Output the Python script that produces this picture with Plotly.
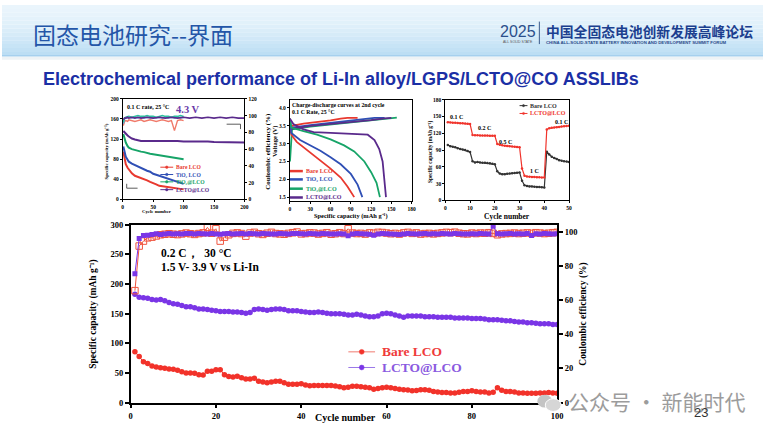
import plotly.graph_objects as go

W, H = 769, 436
def X(p): return p / W
def Y(p): return 1 - p / H

SERIF = "Liberation Serif"

# ================= DATA =================
# --- main chart (bottom): 0.2 C, 30 C cycling ---
cycles = list(range(1, 101))
bare_cap = [86, 78, 69, 66, 62, 60, 59, 58, 57, 56.5,
            54.5, 52, 50, 50, 49.5, 47, 46.8, 53, 53, 55.6,
            55.6, 47, 44, 43.5, 44.6, 42, 40, 40, 41, 36,
            35, 33.5, 35, 36, 36, 33.6, 31, 31, 31, 32,
            30, 28.6, 29, 29, 29, 29, 29, 28, 27, 25,
            26, 27.5, 27.5, 27, 26, 25, 22.6, 23.7, 25, 26,
            25, 24, 22.6, 22, 21.5, 20, 20.5, 22, 22, 21,
            19, 18, 17, 17, 16.5, 16.5, 17.6, 19, 19, 20,
            19, 18, 18, 16.5, 17.6, 25, 21, 19, 18.7, 18,
            16.5, 16.5, 16, 16, 16, 16.5, 16.5, 17, 16.5, 16]
lcto_cap = [183, 178, 177, 176, 174, 173, 174, 172, 169, 167,
            166, 164, 162, 162, 160, 158, 158, 157, 156, 155,
            154, 154, 154, 153, 153, 152, 151, 152, 157, 158,
            157, 156, 157, 158, 158, 157, 155, 155, 155, 154,
            153, 152, 152, 153, 152, 151, 150, 150, 150, 149,
            148, 148, 149, 148, 146, 145, 145, 146, 150, 151,
            150, 148, 146, 144, 146, 146, 146, 146, 145, 145,
            145, 144, 144, 144, 144, 143, 143, 143, 143, 142,
            142, 142, 141, 140, 140, 140, 139, 138, 138, 137,
            136, 136, 135, 135, 134, 133, 133, 133, 132, 132]
bare_ce = [65.5, 91.6, 94.5, 96.4, 96.8, 97.5, 98.2, 98.5, 98.8, 98.5,
           98.3, 98.7, 99.2, 98.8, 98.4, 98.9, 99.3, 102.5, 99.1, 101.7,
           94.5, 96.8, 98.2, 99.0, 99.3, 98.9, 97.4, 99.2, 99.6, 98.8,
           98.4, 99.1, 99.6, 98.9, 98.7, 98.5, 99.0, 99.4, 99.8, 98.7,
           98.9, 99.3, 99.2, 98.6, 99.0, 99.4, 98.5, 98.8, 99.4, 98.9,
           101.7, 99.2, 98.9, 99.0, 98.6, 99.3, 99.1, 99.6, 99.5, 99.2,
           98.8, 99.0, 98.6, 99.3, 99.6, 99.0, 99.3, 98.6, 98.9, 99.0,
           98.7, 99.0, 99.3, 99.6, 99.4, 99.7, 99.1, 98.8, 98.7, 99.2,
           98.9, 99.2, 99.1, 99.4, 99.0, 98.2, 98.7, 98.9, 99.0, 99.2,
           98.9, 99.1, 99.3, 99.0, 99.4, 99.2, 98.9, 99.1, 99.4, 99.6]
lcto_ce = [75.4, 96.0, 97.7, 97.9, 98.3, 98.8, 98.4, 98.6, 98.9, 98.7,
           98.8, 98.6, 98.9, 99.0, 98.7, 98.9, 98.8, 98.6, 98.9, 98.7,
           98.5, 98.8, 98.9, 98.7, 98.8, 98.9, 98.6, 99.0, 98.8, 98.7,
           98.9, 98.8, 98.6, 98.7, 98.9, 98.8, 98.7, 98.9, 99.0, 98.8,
           98.7, 98.9, 98.8, 98.7, 98.9, 98.8, 98.7, 98.6, 98.8, 98.7,
           97.6, 98.7, 98.9, 98.8, 98.7, 98.5, 97.9, 98.6, 98.9, 98.8,
           98.7, 98.5, 98.3, 98.7, 98.9, 98.8, 98.7, 98.8, 98.9, 98.7,
           98.8, 98.7, 98.9, 98.8, 98.7, 98.9, 98.8, 98.7, 98.6, 98.8,
           98.7, 98.9, 98.8, 98.6, 103.2, 98.8, 98.7, 98.8, 98.9, 98.7,
           98.8, 98.7, 98.9, 97.8, 98.8, 98.7, 98.9, 98.8, 98.7, 98.8]

# --- chart 1 (top left): 0.1 C, 25 C, 4.3 V cycling ---
c1_cyc = [1, 3, 5, 8, 10, 15, 20, 25, 30, 35, 40, 45, 50, 55, 60, 65, 70, 75, 80, 85, 90, 95, 100]
c1_bare = [95, 80, 70, 63, 60, 52, 47, 45, 42, 40, 38, 35, 33, 30, 27, 26, 25, 24, 24, 23, 22, 21, 20]
c1_tio2 = [105, 92, 85, 79, 75, 71, 68, 65, 62, 59, 57, 55, 51, 49, 47, 45, 43, 41, 39, 37, 35, 33, 31]
c1_tio2at = [130, 120, 113, 106, 103, 100, 98, 96, 95, 94, 92, 91, 90, 89, 88, 87, 86, 85, 84, 83, 82, 81, 80]
c1_bare_ce = [88, 93, 94, 93, 95, 94, 93, 94, 95, 93, 94, 95, 94, 93, 94, 95, 94, 93, 94, 82, 94, 95, 94]
c1_tio2_ce = [90, 96, 97, 97, 98, 97, 98, 97, 98, 97, 98, 97, 98, 97, 98, 97, 98, 97, 98, 97, 98, 97, 98]
c1_tio2at_ce = [92, 97, 98, 99, 99, 98, 99, 100, 99, 99, 100, 99, 99, 98, 99, 100, 99, 99, 98, 99, 99, 100, 99]
c1_lcto_cyc = [1, 3, 5, 8, 10, 15, 20, 25, 30, 40, 50, 60, 70, 80, 90, 100, 110, 120, 130, 140, 150, 160, 170, 180, 190, 200]
c1_lcto = [136, 133, 130, 127, 125, 121, 119, 117, 116, 116, 116, 117, 116, 116, 116, 115, 115, 116, 115, 115, 114, 114, 114, 113, 113, 113]
c1_lcto_ce = [95, 97, 97, 98, 97, 98, 97, 98, 97, 98, 97, 98, 97, 98, 97, 98, 97, 98, 97, 98, 97, 98, 97, 98, 97, 97]

# --- chart 2 (top middle): charge-discharge curves, 2nd cycle ---
c2_bare_ch_q = [0, 3, 20, 40, 60, 75, 85, 100]
c2_bare_ch_v = [3.35, 3.50, 3.56, 3.60, 3.65, 3.70, 3.72, 3.72]
c2_tio2_ch_q = [0, 3, 30, 60, 90, 110, 125, 140]
c2_tio2_ch_v = [3.30, 3.45, 3.52, 3.58, 3.63, 3.68, 3.72, 3.72]
c2_tio2at_ch_q = [0, 3, 30, 60, 90, 120, 145, 158]
c2_tio2at_ch_v = [2.50, 3.40, 3.48, 3.54, 3.59, 3.64, 3.70, 3.73]
c2_lcto_ch_q = [0, 3, 30, 60, 90, 120, 140, 150]
c2_lcto_ch_v = [3.30, 3.42, 3.50, 3.55, 3.60, 3.66, 3.71, 3.72]
c2_bare_dc_q = [0, 2, 10, 20, 30, 45, 60, 75, 85, 95]
c2_bare_dc_v = [3.70, 3.25, 3.05, 2.90, 2.75, 2.55, 2.30, 2.05, 1.80, 1.50]
c2_tio2_dc_q = [0, 2, 15, 30, 45, 60, 75, 90, 100, 107]
c2_tio2_dc_v = [3.70, 3.30, 3.10, 2.95, 2.80, 2.62, 2.42, 2.15, 1.85, 1.50]
c2_tio2at_dc_q = [0, 2, 20, 40, 60, 80, 95, 110, 120, 128, 133]
c2_tio2at_dc_v = [3.70, 3.45, 3.35, 3.25, 3.12, 2.95, 2.78, 2.50, 2.20, 1.90, 1.50]
c2_lcto_dc_q = [0, 5, 20, 35, 60, 90, 115, 125, 132, 137, 140, 142]
c2_lcto_dc_v = [3.70, 3.55, 3.40, 3.32, 3.30, 3.28, 3.25, 3.10, 2.85, 2.50, 2.00, 1.50]

# --- chart 3 (top right): rate performance ---
c3_cyc = list(range(1, 51))
c3_bare = [99, 97, 96, 95, 93.5, 92, 91, 90, 88.5, 86.5,
           70, 68, 68.5, 68, 67.5, 67.5, 67, 66.5, 65.5, 64.5,
           52, 48, 47, 47, 47.5, 48, 48.5, 49, 49.5, 50,
           35, 27, 26, 25, 25, 24.5, 24, 24, 23.5, 23,
           87, 82, 78, 76, 74, 72, 71, 70, 69.5, 68.5]
c3_lcto = [140, 139.5, 139, 139, 138.5, 138, 138, 137.5, 137, 136.5,
           117, 116.5, 116.5, 116, 116, 116, 116, 115.5, 115.5, 115.5,
           101, 99.5, 98.5, 98, 97.5, 97, 96.5, 96, 95.5, 95,
           57, 44, 43, 42.5, 42, 42, 41.5, 41.5, 41, 41,
           127, 129, 130, 130.5, 131, 131.5, 132, 132.5, 133, 133.5]
c3_rate_labels = ["0.1 C", "0.2 C", "0.5 C", "1 C", "0.1 C"]
c3_rate_x = [4.5, 16, 24.5, 36, 47]
c3_rate_y = [150, 129, 105, 52, 141]

# ================= STYLE =================
RED = "#f2322a"
RED_CE = "#f0553f"
PURPLE = "#7a35e6"
R1, B1, G1, P1 = "#e8392f", "#2f4fb5", "#17a468", "#5a2a8c"
BLACK3, RED3 = "#333333", "#f0342c"
CAP = "Specific capacity (mAh g⁻¹)"

fig = go.Figure()

def sc(x, y, xa, ya, color, width=1.0, mode="lines", msize=4, symbol="circle"):
    fig.add_trace(go.Scatter(x=x, y=y, xaxis=xa, yaxis=ya, mode=mode,
                             line=dict(color=color, width=width),
                             marker=dict(size=msize, symbol=symbol, color=color),
                             showlegend=False, hoverinfo="skip"))

# main
sc(cycles, bare_ce, "x", "y2", RED_CE, 1, "lines+markers", 6.5, "square-open")
sc(cycles, lcto_ce, "x", "y2", PURPLE, 1, "lines+markers", 5, "square")
sc(cycles, lcto_cap, "x", "y", PURPLE, 1, "lines+markers", 5.5, "circle")
sc(cycles, bare_cap, "x", "y", RED, 1, "lines+markers", 5.5, "circle")

# chart 1
sc(c1_cyc, c1_bare_ce, "x2", "y4", "#f07a6a", 1.4)
sc(c1_cyc, c1_tio2_ce, "x2", "y4", "#6fa0d8", 1.4)
sc(c1_cyc, c1_tio2at_ce, "x2", "y4", "#2fc0a0", 1.6)
sc(c1_lcto_cyc, c1_lcto_ce, "x2", "y4", P1, 1.6)
sc(c1_cyc, c1_bare, "x2", "y3", R1, 2)
sc(c1_cyc, c1_tio2, "x2", "y3", B1, 2)
sc(c1_cyc, c1_tio2at, "x2", "y3", G1, 2)
sc(c1_lcto_cyc, c1_lcto, "x2", "y3", P1, 2)

# chart 2
for q, v, c in [(c2_bare_ch_q, c2_bare_ch_v, R1), (c2_tio2_ch_q, c2_tio2_ch_v, B1),
                (c2_tio2at_ch_q, c2_tio2at_ch_v, G1), (c2_lcto_ch_q, c2_lcto_ch_v, P1),
                (c2_bare_dc_q, c2_bare_dc_v, R1), (c2_tio2_dc_q, c2_tio2_dc_v, B1),
                (c2_tio2at_dc_q, c2_tio2at_dc_v, G1), (c2_lcto_dc_q, c2_lcto_dc_v, P1)]:
    sc(q, v, "x3", "y5", c, 1.8)

# chart 3
sc(c3_cyc, c3_bare, "x4", "y6", BLACK3, 1.2, "lines+markers", 2.5)
sc(c3_cyc, c3_lcto, "x4", "y6", RED3, 1.2, "lines+markers", 2.5)

# ================= AXES =================
def ax(size, lw=1, ticklen=3, **kw):
    d = dict(showline=True, linecolor="black", linewidth=lw, ticks="outside", ticklen=ticklen,
             tickwidth=lw, tickcolor="black", showgrid=False, zeroline=False,
             tickfont=dict(family=SERIF, size=size, color="black", weight="bold"))
    d.update(kw)
    return d

fig.update_layout(
    xaxis=ax(8.5, 1.6, 4, domain=[X(130), X(561)], range=[0, 100], dtick=20, anchor="y", mirror=True),
    yaxis=ax(8.5, 1.6, 4, domain=[Y(407), Y(225)], range=[0, 300], dtick=50, anchor="x"),
    yaxis2=ax(8.5, 1.6, 4, overlaying="y", side="right", anchor="x", range=[0, 104], tickvals=[0, 20, 40, 60, 80, 100]),
    xaxis2=ax(5.5, 1, 2, domain=[X(122), X(245)], range=[0, 200], dtick=50, anchor="y3", mirror=True),
    yaxis3=ax(5.5, 1, 2, domain=[Y(199), Y(96)], range=[0, 200], dtick=40, anchor="x2"),
    yaxis4=ax(5.5, 1, 2, overlaying="y3", side="right", anchor="x2", range=[0, 120], dtick=20),
    xaxis3=ax(5.5, 1, 2, domain=[X(291), X(414)], range=[0, 180], dtick=30, anchor="y5", mirror=True),
    yaxis5=ax(5.5, 1, 2, domain=[Y(201), Y(97)], range=[1.38, 4.23], tickvals=[1.5, 2.0, 2.5, 3.0, 3.5, 4.0],
              tickformat=".1f", anchor="x3", mirror=True),
    xaxis4=ax(5.5, 1, 2, domain=[X(448), X(573)], range=[0, 50], dtick=10, anchor="y6", mirror=True),
    yaxis6=ax(5.5, 1, 2, domain=[Y(200), Y(97)], range=[0, 180], dtick=30, anchor="x4", mirror=True),
)

# ================= DECORATION =================
shapes, annotations = [], []

def hexrgb(h):
    h = h.lstrip("#")
    return tuple(int(h[i:i + 2], 16) for i in (0, 2, 4))

top_c, bot_c = hexrgb("#eaf5fc"), hexrgb("#bcdef4")
n = 13
for i in range(n):
    t = (i / (n - 1)) ** 1.5
    c = tuple(round(top_c[k] + (bot_c[k] - top_c[k]) * t) for k in range(3))
    shapes.append(dict(type="rect", xref="paper", yref="paper", x0=0, x1=1, y0=Y(i * 4 + 4), y1=Y(i * 4),
                       fillcolor="rgb(%d,%d,%d)" % c, line=dict(width=0), layer="below"))
shapes.append(dict(type="line", xref="paper", yref="paper", x0=0, x1=1, y0=Y(52), y1=Y(52),
                   line=dict(color="#a6d0ee", width=1.5)))
shapes.append(dict(type="rect", xref="paper", yref="paper", x0=0, x1=1, y0=Y(56), y1=Y(53),
                   fillcolor="#eef3f6", line=dict(width=0), layer="below"))
shapes.append(dict(type="line", xref="paper", yref="paper", x0=X(543), x1=X(543), y0=Y(40), y1=Y(17),
                   line=dict(color="#3a5a8c", width=1)))

def txt(s, x, y, size, color="black", family=SERIF, weight="bold", xa="center", ya="middle", angle=0):
    annotations.append(dict(text=s, x=X(x), y=Y(y), xref="paper", yref="paper", xanchor=xa, yanchor=ya,
                            showarrow=False, textangle=angle, borderpad=0,
                            font=dict(family=family, size=size, color=color, weight=weight)))

def leg(x0, x1, yc, color, label, size, lw=1.0, r=1.5, tcolor=None, gap=2, mcolor=None):
    shapes.append(dict(type="line", xref="paper", yref="paper", x0=X(x0), x1=X(x1), y0=Y(yc), y1=Y(yc),
                       line=dict(color=color, width=lw)))
    if r:
        cx = (x0 + x1) / 2
        mc = mcolor or color
        shapes.append(dict(type="circle", xref="paper", yref="paper", x0=X(cx - r), x1=X(cx + r),
                           y0=Y(yc + r), y1=Y(yc - r), fillcolor=mc, line=dict(color=mc, width=0.5)))
    txt(label, x1 + gap, yc, size, tcolor or color, xa="left")

# header
txt("固态电池研究--界面", 30, 30, 23, "#2456a8", "Noto Sans CJK SC", "normal", xa="left")
txt("2025", 521, 27, 16, "#2c4f8c", "Liberation Sans", "normal")
txt("ALL SOLID STATE", 521, 38, 3.5, "#555555", "Liberation Sans", "normal")
txt("中国全固态电池创新发展高峰论坛", 549, 27, 13.8, "#1c3f8f", "Noto Sans CJK SC", "bold", xa="left")
txt("CHINA ALL-SOLID-STATE BATTERY INNOVATION AND DEVELOPMENT SUMMIT FORUM", 549, 38, 4.3,
    "#2a4a8a", "Liberation Sans", "bold", xa="left")
txt("Electrochemical performance of Li-In alloy/LGPS/LCTO@CO ASSLIBs", 40, 76, 18, "#1b2fa5",
    "Liberation Sans", "bold", xa="left")

# main chart texts
txt(CAP, 93, 316, 9.5, angle=-90)
txt("Coulombic efficiency (%)", 588, 316, 9.5, angle=-90)
txt("Cycle number", 347, 422, 10)
txt("0.2 C，  30 °C", 160, 254, 11.5, xa="left")
txt("1.5 V- 3.9 V vs Li-In", 160, 268, 11.5, xa="left")
leg(350, 377, 355, "#f07a70", "Bare LCO", 13.5, 1, 2.5, "#ef3b3b", 6, RED)
leg(350, 377, 371, "#9a78e8", "LCTO@LCO", 13.5, 1, 2.5, "#8a5ae0", 6, PURPLE)

# chart 1 texts
txt(CAP, 106, 150, 4.8, angle=-90)
txt("Coulombic efficiency (%)", 268, 150, 7, angle=-90)
txt("Cycle number", 157, 211, 4.8)
txt("0.1 C rate, 25 °C", 125, 104, 6, xa="left")
txt("4.3 V", 188, 107, 10.5, "#6a3aa8")
leg(160, 173, 166, R1, "Bare LCO", 5.6, 1, 1.3)
leg(160, 173, 173.5, B1, "TiO₂ LCO", 5.6, 1, 1.3)
leg(160, 173, 181, G1, "TiO₂@LCO", 5.6, 1, 1.3)
leg(160, 173, 189, P1, "LCTO@LCO", 5.6, 1, 1.3)
for (a, b, c, d) in [(126, 183, 126, 187.5), (126, 187.5, 137, 187.5), (227, 122, 241, 122), (241, 122, 241, 127)]:
    shapes.append(dict(type="line", xref="paper", yref="paper", x0=X(a), y0=Y(b), x1=X(c), y1=Y(d),
                       line=dict(color="#333333", width=0.8)))

# chart 2 texts
txt("Voltage (V)", 276, 140, 6.5, angle=-90)
txt(CAP, 353, 216, 6.4)
txt("Charge-discharge curves at 2nd cycle", 292, 102, 5.8, xa="left")
txt("0.1 C Rate, 25 °C", 292, 109, 5.8, xa="left")
leg(291, 304, 170, R1, "Bare LCO", 6, 2.5, 0)
leg(291, 304, 178.5, B1, "TiO₂ LCO", 6, 2.5, 0)
leg(291, 304, 188, G1, "TiO₂@LCO", 6, 2.5, 0)
leg(291, 304, 197, P1, "LCTO@LCO", 6, 2.5, 0)

# chart 3 texts
txt(CAP, 433, 150, 5.4, angle=-90)
txt("Cycle number", 510, 216, 7.5)
leg(523, 531, 103, BLACK3, "Bare LCO", 6, 1, 1.1)
leg(523, 531, 111, RED3, "LCTO@LCO", 6, 1, 1.1)
for lab, cx, cy in zip(c3_rate_labels, c3_rate_x, c3_rate_y):
    annotations.append(dict(text=lab, x=cx, y=cy, xref="x4", yref="y6", showarrow=False,
                            font=dict(family=SERIF, size=6, color="black", weight="bold")))

# watermark + page number
shapes.append(dict(type="circle", xref="paper", yref="paper", x0=X(541), x1=X(556), y0=Y(412), y1=Y(399),
                   fillcolor="#c4c4c4", line=dict(width=0)))
shapes.append(dict(type="circle", xref="paper", yref="paper", x0=X(549), x1=X(565), y0=Y(416), y1=Y(403),
                   fillcolor="#d6d6d6", line=dict(color="#ffffff", width=1)))
txt("公众号 · 新能时代", 571, 405, 21, "#9c9c9c", "Noto Sans CJK SC", "normal", xa="left")
txt("23", 706, 417, 13, "#333333", "Liberation Sans", "normal")

fig.update_layout(shapes=shapes, annotations=annotations,
                  width=W, height=H, margin=dict(l=0, r=0, t=0, b=0),
                  paper_bgcolor="white", plot_bgcolor="rgba(0,0,0,0)", showlegend=False)

fig.write_html("out.html", config={"displayModeBar": False},
               post_script="document.body.style.margin='0px';")
